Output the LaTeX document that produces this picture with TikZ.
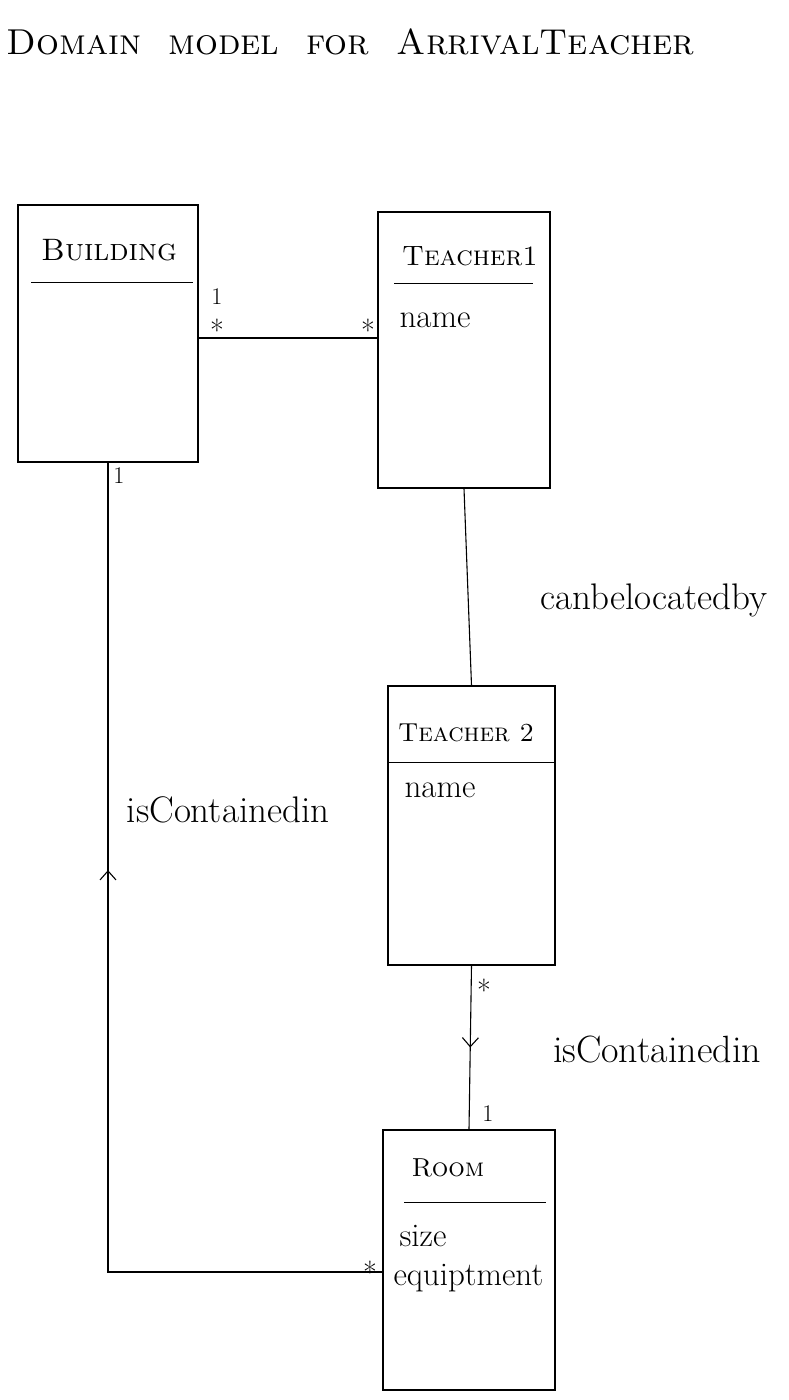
\documentclass[tikz,border=0pt]{standalone}
\usetikzlibrary{calc,arrows.meta,decorations.markings}
\begin{document}
\begin{tikzpicture}[x=1pt,y=-1pt,line width=1.1pt,
  cls/.style={draw,rectangle,inner sep=0pt},
  hdr/.style={font={\fontsize{#1}{30}\selectfont\scshape}},
  attr/.style={font={\fontsize{33}{38}\selectfont},anchor=west,inner sep=0pt},
  lbl/.style={font={\fontsize{#1}{42}\selectfont}},
  mult/.style={font={\fontsize{24}{28}\selectfont}},
  star/.style={font={\fontsize{30}{34}\selectfont}},
  midarrow/.style={postaction={decorate},decoration={markings,
     mark=at position #1 with {\arrow{Straight Barb[length=9pt,width=16pt,line width=1.1pt]}}}}
]
\useasboundingbox (0,0) rectangle (789,1400);
\fill[white] (0,0) rectangle (789,1400);

% title
\node[font={\fontsize{36}{44}\selectfont\scshape},anchor=west,inner sep=0pt] (title) at (6,42) {Domain\ \ model\ \ for\ \ ArrivalTeacher};

% classes
\node[cls,minimum width=180pt,minimum height=257pt] (building) at (108,333.5) {};
\node[cls,minimum width=172pt,minimum height=276pt] (teacherA) at (464,350) {};
\node[cls,minimum width=167pt,minimum height=279pt] (teacherB) at (471.5,825.5) {};
\node[cls,minimum width=172pt,minimum height=260pt] (room) at (469,1260) {};

% header separators
\draw ($(building.north west)+(14,78)$) -- ($(building.north east)+(-6,78)$);
\draw ($(teacherA.north west)+(17,72)$) -- ($(teacherA.north east)+(-18,72)$);
\draw ($(teacherB.north west)+(0,77)$) -- ($(teacherB.north east)+(0,77)$);
\draw ($(room.north west)+(22,73)$) -- ($(room.north east)+(-10,73)$);

% class names
\node[hdr=31] (buildingname) at (109,250) {Building};
\node[hdr=28] (teacherAname) at (470,256) {Teacher1};
\node[hdr=26] (teacherBname) at (466,733) {Teacher 2};
\node[hdr=26] (roomname) at (448,1168) {Room};

% attributes
\node[attr] (teacherAattr) at (399,320) {name};
\node[attr] (teacherBattr) at (404,790) {name};
\node[attr] (roomsize) at (399,1236) {size};
\node[attr] (roomequip) at (393,1278) {equiptment};

% connectors
\draw ([yshift=-4.5pt]building.east) -- ([yshift=-4.5pt]building.east -| teacherA.west);
\draw (teacherA.south) -- (teacherB.north);
\draw[midarrow=0.5] (teacherB.south) -- (room.north);
\draw[midarrow=0.624] ([yshift=-12pt]room.west) -| (building.south);

% multiplicities
\node[mult] (m1) at (217,297) {1};
\node[star] (m2) at (217,330) {*};
\node[star] (m3) at (368,330) {*};
\node[mult] (m4) at (119,476) {1};
\node[star] (m5) at (484,990) {*};
\node[mult] (m6) at (488,1114) {1};
\node[star] (m7) at (370,1272) {*};

% association labels
\node[lbl=37] (lblA) at (654,600) {canbelocatedby};
\node[lbl=37] (lblB) at (228,810) {isContainedin};
\node[lbl=38] (lblC) at (657,1050) {isContainedin};
\end{tikzpicture}
\end{document}
